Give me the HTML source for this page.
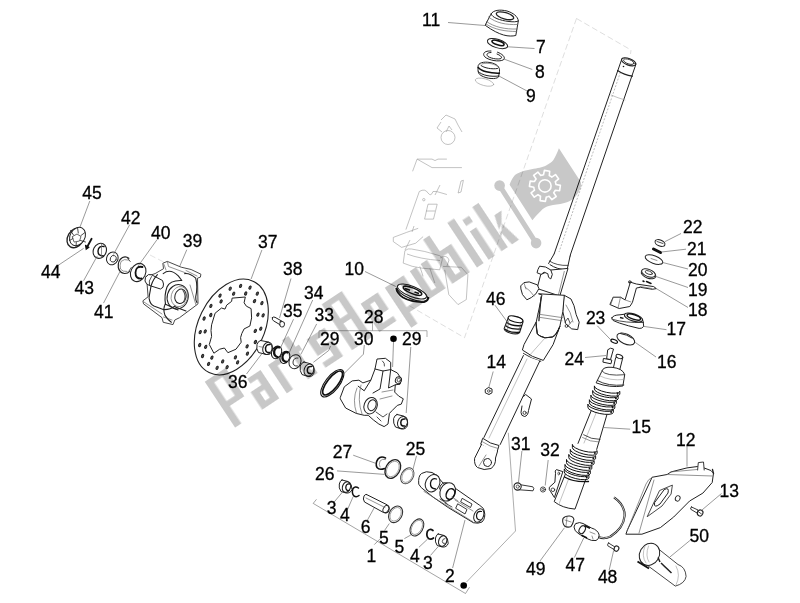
<!DOCTYPE html>
<html><head><meta charset="utf-8"><style>
html,body{margin:0;padding:0;background:#fff;width:800px;height:603px;overflow:hidden}
svg{position:absolute;left:0;top:0;will-change:transform}
.k{fill:none;stroke:#222;stroke-width:1;stroke-linejoin:round;stroke-linecap:round}
.kw{fill:#fff;stroke:#222;stroke-width:1;stroke-linejoin:round;stroke-linecap:round}
.kh{fill:none;stroke:#111;stroke-width:1.6;stroke-linejoin:round;stroke-linecap:round}
.g{fill:none;stroke:#666;stroke-width:0.7;stroke-linecap:round}
.gl{fill:none;stroke:#999;stroke-width:0.6;stroke-linecap:round}
.ld{fill:none;stroke:#555;stroke-width:0.6}
.dsh{fill:none;stroke:#aaa;stroke-width:0.7;stroke-dasharray:5 3}
</style></head><body>
<svg width="800" height="603" viewBox="0 0 800 603">
<rect width="800" height="603" fill="#fff"/>
<!-- p00_ghost.svg -->
<g id="ghost" fill="none" stroke="#9a9a9a" stroke-width="0.6" stroke-linejoin="round">
<!-- steering clamp ring top -->
<circle cx="448" cy="137.5" r="7"/>
<path d="M441,120 L446,115 L455,119 L458,125 M441,122 L437,128 L442,132 M446,132 L449,126 L452,130 M458,125 L462,132"/>
<path d="M417.1,159.1 L432,159.1 Q435,162 438,159.1 L446.9,159.1 M417.1,159.1 L432,167.6 L461.9,167.6 M417.1,159.1 L412.6,171.3"/>
<path d="M458.1,193 L461,181 L463.4,180.3 L461,192 Z"/>
<path d="M419.3,191.5 Q425,188 428,193 Q431,197 433,191.5 L436.5,191.5 L446.9,194.5 M419.3,191.5 L405.9,229.6"/>
<path d="M424.6,219.1 L428,204.2 L437.2,204.2 L433.5,219.1 Z M426,211 L435,211"/>
<circle cx="423.8" cy="199.7" r="1.2"/>
<path d="M393.3,237.4 L406.6,232.4 L418.2,228.3 M393.3,237.4 L393.3,241.6 L401.6,247.4 L415.7,243.2 L423.1,236.6 M412,232 L414,226"/>
<path d="M404.9,250.7 Q408,248 411.5,249 L424.8,251.5 L439.7,255.7 Q443.5,257.5 442.2,259.8 M404.9,250.7 L403.2,263.1 Q412,267 421.5,268.1 L439.7,269.8 L442.2,259.8 M407,254 Q420,259 440,260.5"/>
<path d="M443,266.4 L461.3,267.3 L467.9,274.7 L466.3,299.6 L458,304.6 L448.8,294.6 L444.7,269.8"/>
<path d="M419.8,266.4 L423.1,276.4 M429.8,268.1 L434.8,283 M440,258 Q447,254 449,260 L447,266"/>
<path d="M435,195 L440,185 M410,240 L405,250" />
</g>
<g id="dashes" fill="none" stroke="#c8c8c8" stroke-width="0.6" stroke-dasharray="6 3">
<path d="M576.5,18.5 L464.5,337.7 L409,305.5"/>
<path d="M576.5,18.5 L631,50 L630.5,54"/>

<path d="M150,255 L195,278 M262,313 L282,323" stroke="#d0d0d0"/>
</g>

<!-- p01_top.svg -->
<g id="top">
<!-- 11 cap -->
<path class="kw" d="M491,14 C493,10 500,9.3 507,11 C513,12.8 518,16.5 518.3,21 L515.8,35.5 C509,37 500,36 485.5,25.5 Z"/>
<path class="k" d="M491,14 C492,17.5 500,20.5 509,21.5 C513,22 517,22 518.3,21"/>
<ellipse class="k" cx="505" cy="15.8" rx="9" ry="3.2" transform="rotate(16 505 15.8)" style="stroke-width:1.3"/>
<path class="g" d="M486.5,21.5 C494,27 505,29.5 517.2,29"/>
<path class="g" d="M486,24 C494,29.5 505,31.5 516.8,31.5"/>
<path class="g" d="M488.5,17 C496,23 506,25 517.5,24.5"/>
<path class="ld" d="M448,22.5 L485,25.5"/>
<!-- 7 ring -->
<ellipse class="k" cx="497.5" cy="43.6" rx="10.5" ry="4.2" transform="rotate(17 497.5 43.6)"/>
<ellipse class="kh" cx="498" cy="42.8" rx="6.3" ry="2" transform="rotate(17 498 42.8)"/>
<path class="ld" d="M508,46.8 L534.5,48.5"/>
<!-- 8 circlip -->
<path class="k" d="M491,51 C484,50.5 482,54 485,57 C489,60.5 499,62 503,60 C506,58.5 504,54.5 497.5,52.2"/>
<path class="k" d="M491,52.5 C487,52.5 486,54.5 488,56.5 C492,59 499,59.5 501,58.5 C502.5,57.5 501,55.5 497,54"/>
<path class="ld" d="M503.8,59 L532.3,69.5"/>
<!-- 9 bearing -->
<path class="kw" d="M478,66.5 C478,62.5 484,61.5 490,62.5 C497,63.8 500,67 499.5,71.5 L498.5,77 C496,79.5 487,79 481,75.5 C478.5,74 478,72 478,70 Z"/>
<path class="kh" d="M478.2,67.5 C481,71 490,73.5 499.3,73.2"/>
<path class="k" d="M481,65.5 C484,68 492,69.5 497.5,68.5"/>
<path class="k" d="M478.2,71.5 C482,75.5 491,77 498.8,76"/>
<path class="g" d="M482,64 C485,62.5 493,63 497,66"/>
<ellipse class="gl" cx="484.5" cy="82.2" rx="9.5" ry="3.4" transform="rotate(15 484.5 82.2)"/>
<path class="ld" d="M498.7,75.9 L528,91.5"/>
</g>

<!-- p02_fork.svg -->
<g id="fork">
<!-- upper tube -->
<path class="kw" d="M621.3,60.5 L554.1,254 L569.6,257 L636,64 Z" style="stroke:none"/>
<path class="k" d="M621.3,60.5 L554.1,254"/>
<path class="k" d="M636,64 L569.6,257"/>
<path d="M620.5,72 L559,252" fill="none" stroke="#aaa" stroke-width="0.8" stroke-dasharray="2 1.5"/>
<ellipse class="kw" cx="628.6" cy="61.8" rx="7.5" ry="3.3" transform="rotate(20 628.6 61.8)" style="stroke-width:1.2"/>
<ellipse class="k" cx="628.8" cy="61.7" rx="5.5" ry="2.2" transform="rotate(20 628.8 61.7)" style="stroke-width:0.8"/>
<path class="k" d="M617.6,70.6 Q624,75 632.4,76.2" style="stroke-width:1.2"/>
<circle cx="623.5" cy="66.5" r="0.8" fill="#111"/>
<path class="gl" d="M611,95 Q618,98 625,100"/>
<!-- collar -->
<path class="kw" d="M554.1,254 L548.6,263.5 Q556,269 566.5,270 L570.2,255 Q561,257 554.1,254 Z" style="stroke:none"/>
<path class="k" d="M554.1,254 L548.6,263.5 M570.2,255.5 L567.5,268"/>
<path class="k" d="M549.3,261 Q557,266 568,265.4" style="stroke-width:0.8"/>
<path class="k" d="M550,264.7 Q557,269.5 566.5,269.9"/>
<!-- clamp -->
<path class="kw" d="M541.1,274.4 L550.8,270 L568,268.4 L559.8,296 L537.4,288.6 Z"/>
<path class="g" d="M564.3,271.4 L558.3,295.3"/>
<path class="kw" d="M538.1,269.2 L539.6,266.2 L545.6,267 L550.8,270 L552.3,274.4 L550.8,278.9 L548.6,277.4 L547.8,273.7 L544.1,272.2 L541.1,274.4 L537.4,272.9 Z"/>
<path class="kw" d="M521,285.6 L524,282.6 L529.2,281.9 L537.4,284.9 L538.9,288.6 L535.9,293.8 L531.4,297.5 L526.9,299.8 L522.5,294.6 L521,289.3 Z"/>
<path class="g" d="M525,287 Q530,290 534,296 M524,283 L526,289"/>
<!-- tab right -->
<path class="kw" d="M564.3,295.3 L571,299 L574,305.7 L576.2,314.7 L579.2,322.2 L577.7,329.6 L571.7,328.9 L565.7,323.7 L562.8,311.7 Z"/>
<path class="g" d="M566,305 Q571,312 573,322 M568,326 L572,321"/>
<circle class="k" cx="566.5" cy="326" r="1.4" style="stroke-width:0.8"/>
<path class="k" d="M565,322 L568,318 L570,323" style="stroke-width:0.8"/>
<!-- cylinder below clamp -->
<path class="kw" d="M538.9,293.8 L564.3,295.3 L562.8,311.7 L559.8,326.6 L557.5,331.9 Q555,336.5 552.3,337.1 L544.9,337.8 Q539,336 537.4,334.1 L535.9,323.7 L541.9,295.3 Z"/>
<path class="k" d="M541.1,296.8 L538.9,320.7" style="stroke-width:1.3"/>
<path class="g" d="M537.4,314 L562.8,317.7 M537.4,317 L562,320.7"/>
<!-- sleeve -->
<path class="kw" d="M535.9,322.5 L524,344.6 L522.4,350 Q532,357.5 543.3,360.4 L553.1,344.6 L559.8,326.6 L557.5,331.9 Q555,336.5 552.3,337.1 L544.9,337.8 Q539,336 537.4,334.1 Z"/>
<path class="k" d="M535.9,323.7 Q536.5,331 537.4,334.1 Q540,337 544.9,337.8 L552.3,337.1 Q556,335 559.8,326.6"/>
<path class="gl" d="M545,338 L529,356"/>
<path class="k" d="M523.4,353.4 Q532,359 540.8,361.4" style="stroke-width:0.9"/>
<!-- lower leg -->
<path class="kw" d="M523.4,355.5 L483.9,437.5 L500.2,444.5 L540,361 Z" style="stroke:none"/>
<path class="k" d="M523.4,355.5 L483.9,437.5"/>
<path class="k" d="M539.8,361 L500.2,444.5"/>
<path class="gl" d="M527,359 L489,438"/>
<path class="kw" d="M483,438.5 Q490,444 499,445.5 L497,452 Q488,450 481,444.5 Z"/>
<path class="g" d="M482,441.5 Q490,447 498,448.5"/>
<!-- eye end -->
<path class="kw" d="M481.5,444.5 L474.6,458.3 Q474,465 477.5,467.5 Q484,471 491,468.5 Q496,465 495.5,458 L497.5,451.5"/>
<circle class="k" cx="487.5" cy="462.5" r="4"/>
<path class="g" d="M486,455 L479,466"/>
<!-- bracket tab -->
<path class="kw" d="M523.5,396.5 L525.7,394.5 L531.5,399 L528.5,410.5 Q528,416 524.5,416.5 Q521,416 521,412.5 L522,406"/>
<circle class="k" cx="524.6" cy="412.8" r="1.6" style="stroke-width:0.8"/>
<!-- nut 14 -->
<path class="k" d="M485.5,389.5 L488.5,387.5 L492,389 L492,392.8 L489,394.5 L485.7,393 Z"/>
<circle class="k" cx="488.8" cy="391" r="1.3" style="stroke-width:0.7"/>
<path class="ld" d="M493.2,371.5 L488.8,387.5"/>
</g>

<!-- p03_shock.svg -->
<g id="shock">
<path class="kw" d="M615.6,358 L612.8,370.5 Q616,373.5 619.2,372 L622.9,357.3 Z"/>
<ellipse class="kw" cx="619.3" cy="356.6" rx="3.4" ry="1.9" transform="rotate(20 619.3 356.6)"/>
<path class="kw" d="M608,349.5 Q610.5,347 613.5,349 L610.5,359.5 L607,359 Z"/>
<path class="kw" d="M603.8,358.5 L611.8,360 L611,363.8 L603.3,362.2 Z"/>
<path class="kw" d="M591.9,409 L578,443.4 L596.7,449.4 L607.4,413 Z" style="stroke:none"/>
<path class="k" d="M591.9,409 L578,443.4"/>
<path class="k" d="M607.4,413 L596.7,449.4"/>
<path class="gl" d="M596.5,412 L584,443"/>
<path class="k" d="M583.6,434.8 Q591,439.5 600,439.4" style="stroke-width:0.8"/>
<path class="g" d="M582.5,437.5 Q590,442 599,442"/>
<path class="kw" d="M601.9,371 Q603,366.5 612,367.3 Q623,368.5 624.7,374.7 L622.9,386 Q610,388 596.5,383 Z"/>
<path class="k" d="M601.9,371 Q606,376.5 624.7,374.7" style="stroke-width:0.8"/>
<path class="gl" d="M600,376 Q610,381 624,379.5"/>
<path class="k" d="M597.3,380.5 Q608,386.5 623.8,385" style="stroke-width:0.9"/>
<path d="M594.38,385.90 A13.00,3.80 12.0 0 0 619.82,391.30 L619.82,394.30 A13.00,3.80 12.0 0 1 594.38,388.90 Z" fill="#fff" stroke="#111" stroke-width="1"/><circle cx="617.6" cy="393.7" r="1" fill="#111"/>
<path d="M592.68,390.50 A13.00,3.80 12.0 0 0 618.12,395.90 L618.12,398.90 A13.00,3.80 12.0 0 1 592.68,393.50 Z" fill="#fff" stroke="#111" stroke-width="1"/><circle cx="615.9" cy="398.3" r="1" fill="#111"/>
<path d="M590.88,395.10 A13.00,3.80 12.0 0 0 616.32,400.50 L616.32,403.50 A13.00,3.80 12.0 0 1 590.88,398.10 Z" fill="#fff" stroke="#111" stroke-width="1"/><circle cx="614.1" cy="402.9" r="1" fill="#111"/>
<path d="M589.38,399.70 A13.00,3.80 12.0 0 0 614.82,405.10 L614.82,408.10 A13.00,3.80 12.0 0 1 589.38,402.70 Z" fill="#fff" stroke="#111" stroke-width="1"/><circle cx="612.6" cy="407.5" r="1" fill="#111"/>
<path d="M587.88,404.10 A13.00,3.80 12.0 0 0 613.32,409.50 L613.32,412.50 A13.00,3.80 12.0 0 1 587.88,407.10 Z" fill="#fff" stroke="#111" stroke-width="1"/><circle cx="611.1" cy="411.9" r="1" fill="#111"/>
<path class="kw" d="M565.4,474 L554.2,501.6 Q562,508 575,509.1 L585.5,480 Z"/>
<path class="gl" d="M569,478 L559,504"/>
<path d="M572.38,444.42 A12.75,3.80 14.0 0 0 597.12,450.58 L597.12,453.58 A12.75,3.80 14.0 0 1 572.38,447.42 Z" fill="#fff" stroke="#111" stroke-width="1"/><circle cx="594.9" cy="453.0" r="1" fill="#111"/>
<path d="M570.29,449.44 A13.05,3.80 14.0 0 0 595.61,455.76 L595.61,458.76 A13.05,3.80 14.0 0 1 570.29,452.44 Z" fill="#fff" stroke="#111" stroke-width="1"/><circle cx="593.4" cy="458.2" r="1" fill="#111"/>
<path d="M568.79,454.44 A13.05,3.80 14.0 0 0 594.11,460.76 L594.11,463.76 A13.05,3.80 14.0 0 1 568.79,457.44 Z" fill="#fff" stroke="#111" stroke-width="1"/><circle cx="591.9" cy="463.2" r="1" fill="#111"/>
<path d="M566.49,459.44 A13.05,3.80 14.0 0 0 591.81,465.76 L591.81,468.76 A13.05,3.80 14.0 0 1 566.49,462.44 Z" fill="#fff" stroke="#111" stroke-width="1"/><circle cx="589.6" cy="468.2" r="1" fill="#111"/>
<path d="M564.99,464.44 A13.05,3.80 14.0 0 0 590.31,470.76 L590.31,473.76 A13.05,3.80 14.0 0 1 564.99,467.44 Z" fill="#fff" stroke="#111" stroke-width="1"/><circle cx="588.1" cy="473.2" r="1" fill="#111"/>
<path d="M564.28,468.93 A12.70,3.80 14.0 0 0 588.92,475.07 L588.92,478.07 A12.70,3.80 14.0 0 1 564.28,471.93 Z" fill="#fff" stroke="#111" stroke-width="1"/><circle cx="586.7" cy="477.5" r="1" fill="#111"/>
<path class="kh" d="M564.5,477 Q574,482.5 588.5,481.5" style="stroke-width:1.3"/>
<path class="kw" d="M562.5,471.5 L556.4,469.6 Q554.5,470.5 555.5,473.3 L554.9,482.2 L549.3,487.3 Q548.8,490 550.4,491.2 L554.2,497.2 Z"/>
<ellipse class="k" cx="558.8" cy="473.5" rx="0.9" ry="1.5" style="stroke-width:0.7"/>
<circle class="k" cx="552.9" cy="489.8" r="1.8" style="stroke-width:0.8"/>
<circle class="k" cx="543" cy="489.5" r="2.6" style="stroke-width:0.8"/>
<circle class="k" cx="543" cy="489.5" r="1.2" style="stroke-width:0.6"/>
<path class="ld" d="M548.2,460 L545.2,485.5"/>
<path class="ld" d="M603.7,427.5 L630.2,429.2"/>
<path class="ld" d="M585,357.5 L606,355.5"/>
</g>
<!-- p04_disc.svg -->
<g id="disc">
<ellipse class="kw" cx="231.3" cy="327" rx="32.9" ry="50.7" transform="rotate(26 231.3 327)" style="stroke-width:1.1"/>
<path class="k" d="M232.5,298.1 L245.3,297.0 L244.1,302.8 L246.4,306.2 L251.1,308.6 L251.6,317.9 L249.9,326.0 L244.1,328.9 L241.8,333.5 L240.6,337.6 L241.2,342.2 L236.0,349.2 L227.9,352.7 L224.4,348.0 L219.7,349.2 L213.9,353.2 L209.3,344.5 L211.6,336.4 L211.0,330.6 L211.6,324.8 L215.1,313.2 L221.5,308.0 L225.0,309.1 L226.7,305.1 L231.3,301.6Z" style="stroke-width:1"/>
<ellipse cx="255.4" cy="342.0" rx="1" ry="1.7" transform="rotate(25 255.4 342.0)" fill="#555" stroke="#222" stroke-width="1"/>
<ellipse cx="247.4" cy="353.6" rx="1" ry="1.7" transform="rotate(25 247.4 353.6)" fill="#555" stroke="#222" stroke-width="1"/>
<ellipse cx="237.6" cy="362.3" rx="1" ry="1.7" transform="rotate(25 237.6 362.3)" fill="#555" stroke="#222" stroke-width="1"/>
<ellipse cx="227.1" cy="367.2" rx="1" ry="1.7" transform="rotate(25 227.1 367.2)" fill="#555" stroke="#222" stroke-width="1"/>
<ellipse cx="217.1" cy="367.8" rx="1" ry="1.7" transform="rotate(25 217.1 367.8)" fill="#555" stroke="#222" stroke-width="1"/>
<ellipse cx="208.6" cy="363.9" rx="1" ry="1.7" transform="rotate(25 208.6 363.9)" fill="#555" stroke="#222" stroke-width="1"/>
<ellipse cx="202.6" cy="356.0" rx="1" ry="1.7" transform="rotate(25 202.6 356.0)" fill="#555" stroke="#222" stroke-width="1"/>
<ellipse cx="199.7" cy="345.0" rx="1" ry="1.7" transform="rotate(25 199.7 345.0)" fill="#555" stroke="#222" stroke-width="1"/>
<ellipse cx="200.2" cy="332.1" rx="1" ry="1.7" transform="rotate(25 200.2 332.1)" fill="#555" stroke="#222" stroke-width="1"/>
<ellipse cx="204.1" cy="318.5" rx="1" ry="1.7" transform="rotate(25 204.1 318.5)" fill="#555" stroke="#222" stroke-width="1"/>
<ellipse cx="210.9" cy="305.9" rx="1" ry="1.7" transform="rotate(25 210.9 305.9)" fill="#555" stroke="#222" stroke-width="1"/>
<ellipse cx="220.0" cy="295.6" rx="1" ry="1.7" transform="rotate(25 220.0 295.6)" fill="#555" stroke="#222" stroke-width="1"/>
<ellipse cx="230.2" cy="288.7" rx="1" ry="1.7" transform="rotate(25 230.2 288.7)" fill="#555" stroke="#222" stroke-width="1"/>
<ellipse cx="240.6" cy="285.9" rx="1" ry="1.7" transform="rotate(25 240.6 285.9)" fill="#555" stroke="#222" stroke-width="1"/>
<ellipse cx="250.0" cy="287.6" rx="1" ry="1.7" transform="rotate(25 250.0 287.6)" fill="#555" stroke="#222" stroke-width="1"/>
<ellipse cx="257.3" cy="293.6" rx="1" ry="1.7" transform="rotate(25 257.3 293.6)" fill="#555" stroke="#222" stroke-width="1"/>
<ellipse cx="261.9" cy="303.1" rx="1" ry="1.7" transform="rotate(25 261.9 303.1)" fill="#555" stroke="#222" stroke-width="1"/>
<ellipse cx="263.1" cy="315.3" rx="1" ry="1.7" transform="rotate(25 263.1 315.3)" fill="#555" stroke="#222" stroke-width="1"/>
<ellipse cx="260.8" cy="328.7" rx="1" ry="1.7" transform="rotate(25 260.8 328.7)" fill="#555" stroke="#222" stroke-width="1"/>
<ellipse cx="247.1" cy="346.3" rx="1" ry="1.7" transform="rotate(25 247.1 346.3)" fill="#555" stroke="#222" stroke-width="1"/>
<ellipse cx="235.4" cy="357.3" rx="1" ry="1.7" transform="rotate(25 235.4 357.3)" fill="#555" stroke="#222" stroke-width="1"/>
<ellipse cx="222.7" cy="361.4" rx="1" ry="1.7" transform="rotate(25 222.7 361.4)" fill="#555" stroke="#222" stroke-width="1"/>
<ellipse cx="211.9" cy="357.6" rx="1" ry="1.7" transform="rotate(25 211.9 357.6)" fill="#555" stroke="#222" stroke-width="1"/>
<ellipse cx="205.7" cy="346.8" rx="1" ry="1.7" transform="rotate(25 205.7 346.8)" fill="#555" stroke="#222" stroke-width="1"/>
<ellipse cx="205.2" cy="331.4" rx="1" ry="1.7" transform="rotate(25 205.2 331.4)" fill="#555" stroke="#222" stroke-width="1"/>
<ellipse cx="210.8" cy="315.0" rx="1" ry="1.7" transform="rotate(25 210.8 315.0)" fill="#555" stroke="#222" stroke-width="1"/>
<ellipse cx="221.1" cy="301.4" rx="1" ry="1.7" transform="rotate(25 221.1 301.4)" fill="#555" stroke="#222" stroke-width="1"/>
<ellipse cx="233.7" cy="293.7" rx="1" ry="1.7" transform="rotate(25 233.7 293.7)" fill="#555" stroke="#222" stroke-width="1"/>
<ellipse cx="245.7" cy="293.5" rx="1" ry="1.7" transform="rotate(25 245.7 293.5)" fill="#555" stroke="#222" stroke-width="1"/>
<ellipse cx="254.5" cy="301.1" rx="1" ry="1.7" transform="rotate(25 254.5 301.1)" fill="#555" stroke="#222" stroke-width="1"/>
<ellipse cx="257.9" cy="314.6" rx="1" ry="1.7" transform="rotate(25 257.9 314.6)" fill="#555" stroke="#222" stroke-width="1"/>
<ellipse cx="255.3" cy="330.9" rx="1" ry="1.7" transform="rotate(25 255.3 330.9)" fill="#555" stroke="#222" stroke-width="1"/>
<path class="ld" d="M261.9,250 L251.1,279"/>
</g>
<!-- p05_hub.svg -->
<g id="hub">
<!-- 45 castellated nut -->
<ellipse class="kw" cx="75.5" cy="238" rx="7.8" ry="10.3" transform="rotate(30 75.5 238)" style="stroke-width:1.3"/>
<ellipse class="kw" cx="77.5" cy="236.5" rx="7.4" ry="9.6" transform="rotate(30 77.5 236.5)"/>
<path class="k" d="M72.5,236.5 L77,234 L81,236.5 L79.5,241 L74.5,242 Z" style="stroke-width:0.7"/>
<path class="k" d="M77.5,227.5 L78.3,233 M85,232.5 L81,235.5 M85.5,242 L80.5,240.5 M76,247 L76.3,242.5 M69.5,240.5 L73,238.5 M70.5,230.5 L73.5,235" style="stroke-width:0.8"/>
<path class="ld" d="M89.8,201 L79.9,227.3"/>
<!-- 44 cotter pin -->
<path d="M91.6,238.7 L87.4,246.5" stroke="#111" stroke-width="1.8" stroke-linecap="round" fill="none"/>
<path d="M85.5,244.8 L86.2,249.2 L89.3,247" stroke="#111" stroke-width="1.2" fill="#111"/>
<path class="ld" d="M57.5,265.8 L83.6,248.4"/>
<!-- 43 bearing ring -->
<ellipse class="kw" cx="99.8" cy="250.8" rx="6.4" ry="7.8" transform="rotate(25 99.8 250.8)" style="stroke-width:1.1"/>
<path class="kh" d="M104,246.5 Q98.5,245.5 98,251 Q97.8,256 103.5,256" style="stroke-width:1.4"/>
<path class="g" d="M101.5,244 L101.5,257"/>
<path class="ld" d="M83.6,280.7 L97.3,255.9"/>
<!-- 42 spacer -->
<ellipse class="kw" cx="112.3" cy="258.4" rx="5.6" ry="6.6" transform="rotate(25 112.3 258.4)"/>
<ellipse class="k" cx="113.2" cy="258.8" rx="2.9" ry="3.4" transform="rotate(25 113.2 258.8)" style="stroke-width:0.8"/>
<path class="ld" d="M129.6,224.8 L113.4,254.6"/>
<!-- 41 circlip -->
<path class="k" d="M128.8,258.3 Q126,256 122.5,257.5 Q117.5,260.5 118.3,267.5 Q119.5,273 124.5,273.5 Q128,273.6 129.5,271.5" style="stroke-width:1.2"/>
<path class="g" d="M128.5,260 Q124,258.5 121,261.5 Q119.5,265 120.5,269 Q122.5,272 127,271.5"/>
<path class="k" d="M127.5,258 L130.2,261.5 M129,271 L131.3,267.5" style="stroke-width:0.8"/>
<path class="ld" d="M103.5,303.1 L119.7,272"/>
<!-- 40 bearing -->
<ellipse class="kw" cx="138.2" cy="272.5" rx="7.4" ry="9.4" transform="rotate(25 138.2 272.5)" style="stroke-width:1.1"/>
<path class="kh" d="M142.5,267 Q136,265.5 135.5,272.5 Q135.3,279 141.5,278.5" style="stroke-width:1.8"/>
<path class="ld" d="M157,239.7 L138.3,265.8"/>
<!-- 39 hub -->
<path class="kw" d="M163.2,263.1 L167.3,261.4 L181.2,267.2 L191.1,269.5 L200.9,274.2 L200.4,277.1 L197.5,278.2 L198,303.8 L195.1,306.1 L179.5,317.7 L174.8,320 L173,324.6 L163.2,322.3 L162,317.7 L143.5,303.8 L142.9,300.8 L148.1,296.8 L147,283 L145.8,276.5 L148.1,275.9 L155.1,273.6 L163.2,268.9 Z" style="stroke:#333;stroke-width:0.9"/>
<path class="g" d="M164,264.5 L166,270 M167.3,261.4 L168.5,266.5 L186,273 M186,270.5 L197,276 M144,302 L162,314 M163.5,317 L172,320 M196,305 L190,285"/>
<path class="kw" d="M148,274.8 Q144.3,277 145,281 Q146,284.5 149.5,285.5 L160.5,289 Q164,288 163.5,284 L162.5,280.5 L152,275 Z" style="stroke:#222;stroke-width:1"/>
<path class="k" d="M149.5,285.5 Q148,281 151.5,276.5" style="stroke-width:0.8"/>
<ellipse class="kw" cx="177.7" cy="296.8" rx="10.5" ry="12.3" transform="rotate(15 177.7 296.8)" style="stroke:#222;stroke-width:1"/>
<ellipse class="k" cx="179.5" cy="296.6" rx="8.3" ry="10.2" transform="rotate(15 179.5 296.6)" style="stroke:#777;stroke-width:0.7"/>
<ellipse class="k" cx="180.5" cy="296.3" rx="5.6" ry="7.3" transform="rotate(15 180.5 296.3)" style="stroke:#222;stroke-width:1"/>
<path class="k" d="M183,290.5 Q186.5,295 184,302" style="stroke:#555;stroke-width:1.2"/>
<path class="k" d="M163.2,273.6 Q170.2,268 178.3,275.9 L181.8,280.5 Q170,280 167,287 Q164,295.6 165.5,303.8 Q162.5,308.4 165,315.4 Q168,320 171.3,322.3 M184.7,273.6 Q190,273 195.7,278.2 Q198,287.5 195.7,296.8 Q195.5,300 196.9,302.6 M157.4,274.7 Q151,282 150.4,289.8 Q148.5,299 149.3,299.1 Q150,304 153.9,306.1 L163.2,309.6 Q170,310 175,306 M174,306.5 L186,311 M165,304 L178,310" style="stroke-width:1.1"/>
<path class="ld" d="M186.8,249.7 L179.4,267"/>
</g>

<!-- p06_caliper.svg -->
<g id="caliper">
<!-- 38 bolt -->
<path class="kw" d="M272.5,317.5 Q271.5,319.5 273.5,320.8 L280.5,325 L282.5,321.5 L275,317.3 Q273.5,316.5 272.5,317.5 Z"/>
<path class="kw" d="M280.2,321.8 Q282.5,320.8 284.3,322.5 Q285,325 283.5,326.8 Q281.5,327.5 280,326 Q279.5,323.5 280.2,321.8 Z"/>
<path class="ld" d="M291,278.5 L279.5,318"/>
<!-- 36 bushing -->
<path class="kw" d="M260.5,340.5 L268.5,342 Q273,345 272.3,350.5 Q271.5,355 266.5,354.5 L258.5,352.5 Q256,349 257,344.5 Q258,341 260.5,340.5 Z"/>
<ellipse class="k" cx="267.5" cy="348.3" rx="4.6" ry="6.3" transform="rotate(20 267.5 348.3)"/>
<path class="kh" d="M270,344.5 Q266,344 265.5,348.5 Q265.5,353 269.5,352.5" style="stroke-width:1.5"/>
<path class="g" d="M259,346.5 L264,347.5"/>
<path class="ld" d="M246.5,374 L262,353.5"/>
<!-- 35 dark ring -->
<ellipse cx="276.6" cy="352.4" rx="4.8" ry="6.6" transform="rotate(25 276.6 352.4)" fill="#fff" stroke="#111" stroke-width="1"/>
<path d="M280,347.6 Q275.5,346 274.2,351 Q273.5,356.5 278.5,357.3" fill="none" stroke="#111" stroke-width="2.3"/>
<path class="ld" d="M293.5,319.2 L280.9,347"/>
<!-- 34 dark ring -->
<ellipse cx="284.9" cy="357.3" rx="4.6" ry="6.4" transform="rotate(25 284.9 357.3)" fill="#fff" stroke="#111" stroke-width="1"/>
<path d="M288.2,352.6 Q283.8,351 282.5,356 Q281.8,361.3 286.8,362" fill="none" stroke="#111" stroke-width="2.3"/>
<path class="ld" d="M312.7,300 L289.5,352"/>
<!-- 33 washer -->
<ellipse class="kw" cx="295" cy="361.7" rx="5.9" ry="7.2" transform="rotate(22 295 361.7)"/>
<path class="k" d="M298,358 Q293.5,357.5 293,362 Q292.8,366.5 297.5,366" style="stroke-width:0.9"/>
<path class="ld" d="M316.7,323.9 L300.8,354.4"/>
<!-- 29a bushing -->
<path class="kw" d="M304,362 L310.5,363.8 Q315,367 314,373 Q312.5,377 308,376.5 L302,374.5 Q299.5,371 300.2,366 Q301.5,362.5 304,362 Z"/>
<ellipse class="k" cx="309" cy="370" rx="4.8" ry="6.2" transform="rotate(22 309 370)"/>
<path class="kh" d="M311.5,366.5 Q307.5,366 307.3,370 Q307.3,374 311,373.5" style="stroke-width:1.5"/>
<path class="ld" d="M330.5,346 L328.7,350.5 L313.4,362.3"/>
<!-- 28 bracket -->
<path class="ld" d="M319,338 L319,330.7 L427,330.7 L427,337 M372.5,323.5 L372.5,330.7" style="stroke:#777"/>
<circle cx="393.5" cy="338.7" r="3.3" fill="#000"/>
<path class="ld" d="M393.5,342 L392.6,367"/>
<path class="ld" d="M410.8,347 L406.2,413"/>
<!-- 30 ring seal -->
<ellipse cx="332.3" cy="383.3" rx="7" ry="16.5" transform="rotate(38 332.3 383.3)" fill="none" stroke="#111" stroke-width="1.1"/>
<ellipse cx="332.6" cy="383" rx="5.4" ry="14.6" transform="rotate(38 332.6 383)" fill="none" stroke="#111" stroke-width="1.7"/>
<path d="M339,393 L342,390.5" stroke="#fff" stroke-width="2"/>
<path class="ld" d="M364.3,345 L363.4,354.2 L343.3,374.3"/>
<!-- caliper body -->
<path class="kw" d="M377.4,359 L385.4,358.3 L390.7,362.3 L390.7,369.6 L397.3,372.9 L401.3,378.9 L400,384.2 L395.3,384.8 L394.7,392.1 L398.7,396.1 L403.3,398.8 L401.3,404.1 L397.3,405.4 L392,410.7 L389.4,413.4 L388,424 L384.1,426.6 L378.8,424 L373.5,420 L368.2,415.3 L364.2,415.3 L356.2,413.4 L345.6,408 L340.3,398.8 L340.3,397.4 L344.3,386.8 L352.2,380.9 L358.9,380.2 L362.9,382.9 L370.8,380.2 L374.8,369.6 Z"/>
<path class="k" d="M358.2,386.2 L364.2,390.8 L370.8,380.2 M375,369 L383,371 L390.7,369.6 M383,371 L380,389 L373,393 M390.7,369.6 L388.5,388 L395.3,384.8"/>
<ellipse class="kw" cx="370.6" cy="405.7" rx="6.5" ry="8.4" transform="rotate(20 370.6 405.7)"/>
<ellipse class="k" cx="372" cy="405.2" rx="4" ry="5.6" transform="rotate(20 372 405.2)"/>
<path class="g" d="M357,388 Q352,400 356.5,413 M361,385 Q357,400 362,414 M382,392 L393,390 M380,399 L392,396"/>
<ellipse class="kw" cx="398.4" cy="380.2" rx="3" ry="3.4" transform="rotate(20 398.4 380.2)"/>
<ellipse class="k" cx="398.8" cy="380" rx="1.6" ry="2" transform="rotate(20 398.8 380)" style="stroke-width:0.7"/>
<path class="k" d="M376,412 L383,417 L387,414 M377,417 L381,421 M382.5,361 Q385,363 384.5,366" style="stroke-width:0.8"/>
<!-- 29b bushing -->
<path class="kw" d="M397,414.5 L403.5,416 Q408.5,419.5 407.5,425.5 Q406,429.5 401.5,429 L395.5,427 Q393,423.5 393.6,418.5 Q394.8,415 397,414.5 Z"/>
<ellipse class="k" cx="402.5" cy="422.5" rx="4.8" ry="6.2" transform="rotate(22 402.5 422.5)"/>
<path class="kh" d="M405,419 Q401,418.5 400.8,422.5 Q400.8,426.5 404.5,426" style="stroke-width:1.5"/>
<!-- 10 seal -->
</g>

<!-- p07_right.svg -->
<g id="right">
<!-- 22 -->
<ellipse class="kw" cx="660" cy="243" rx="5.2" ry="3" transform="rotate(22 660 243)"/>
<path class="k" d="M657,241.5 L663,243.5" style="stroke-width:0.8"/>
<path class="ld" d="M665,241.6 L681,233.5"/>
<!-- 21 spring -->
<path d="M653.5,249 L660.5,252.5" stroke="#111" stroke-width="3" stroke-linecap="round"/>
<path class="ld" d="M661.5,252 L686,249.2"/>
<!-- 20 washer -->
<ellipse class="kw" cx="654" cy="259.6" rx="9.3" ry="3.8" transform="rotate(20 654 259.6)"/>
<path class="g" d="M651,258.5 L657,260.5"/>
<path class="ld" d="M662.7,262.5 L688,269"/>
<!-- 19 thick washer -->
<ellipse class="kw" cx="648.5" cy="274.2" rx="7.6" ry="4" transform="rotate(20 648.5 274.2)"/>
<ellipse class="kw" cx="648.5" cy="273" rx="7.2" ry="3.6" transform="rotate(20 648.5 273)"/>
<ellipse class="k" cx="648.8" cy="272.6" rx="3.8" ry="1.6" transform="rotate(20 648.8 272.6)" style="stroke-width:0.8"/>
<path class="ld" d="M655.7,276.4 L688,287.5"/>
<!-- 18 bracket -->
<path class="kw" d="M629.8,282 L636.4,284 L653.7,286.6 L656.3,288.6 L652.3,289.3 L640.4,287.3 L636.4,288 L632.4,302.5 L629.8,306.5 L619.2,308.5 L609.9,304.5 L613.2,297.2 L620.5,297.2 L625.1,299.9 L629.8,284 Z"/>
<path class="g" d="M613.2,297.2 L611,304 M620.5,297.2 L618,308 M625.1,299.9 L631,302 M640,286.5 L652,288.5"/>
<circle class="k" cx="629.8" cy="282" r="1.3" style="stroke-width:0.8"/>
<path d="M646.5,281.5 L651,283.5 M643,281 L644,281.5" stroke="#111" stroke-width="1.5" stroke-linecap="round"/>
<path class="ld" d="M656.3,288.6 L688,307.5"/>
<!-- 17 plate -->
<path class="kw" d="M611.9,317.8 Q613,315 620,314.8 L626,314 Q636,313.5 643,320.5 L643.7,326.4 Q642,328.8 639.1,328.4 L628.5,325.8 Q618,323 613.2,320.5 Q611.5,319.5 611.9,317.8 Z"/>
<path class="k" d="M613,319.5 Q625,323 643.5,322.5" style="stroke-width:0.8"/>
<ellipse class="kw" cx="633.5" cy="317.5" rx="9.5" ry="3.6" transform="rotate(18 633.5 317.5)" style="stroke-width:1.2"/>
<ellipse class="kh" cx="633.8" cy="317" rx="7" ry="2.3" transform="rotate(18 633.8 317)" style="stroke-width:1.4"/>
<path d="M620,317.5 L623.5,318.3" stroke="#111" stroke-width="1.3"/>
<path class="ld" d="M643.7,326.4 L666.5,329.7"/>
<!-- 16 ring -->
<ellipse class="kw" cx="625.8" cy="339" rx="9.5" ry="5" transform="rotate(25 625.8 339)"/>
<path class="k" d="M620.5,333.5 Q627,334.5 632,338" style="stroke-width:1"/>
<path class="ld" d="M635.1,342.3 L656,357"/>
<!-- 23 nut -->
<ellipse cx="614.2" cy="341.3" rx="3.5" ry="1.6" transform="rotate(22 614.2 341.3)" fill="#fff" stroke="#111" stroke-width="1.2"/>
<path class="ld" d="M597.3,325.8 L611.2,340.3"/>
</g>

<!-- p08_bottom.svg -->
<g id="bottom">
<!-- 27 C clip -->
<path class="kh" d="M385.5,458 Q381,455.5 378,459 Q375,463.5 377,467.5 Q379.5,470.5 384.5,468.5" style="stroke-width:1.6"/>
<path class="g" d="M385.5,459.5 Q382,458.5 380,461 Q378.5,464.5 380,467"/>
<path class="ld" d="M353.2,455.2 L375.9,463.4"/>
<!-- 26 ring -->
<ellipse cx="392.8" cy="469.0" rx="7.0" ry="10.0" transform="rotate(30 392.8 469.0)" fill="none" stroke="#222" stroke-width="1.4"/><ellipse cx="392.8" cy="469.0" rx="5.6" ry="8.3" transform="rotate(30 392.8 469.0)" fill="none" stroke="#888" stroke-width="0.7"/>
<path class="ld" d="M337,470.9 L384.6,474.4"/>
<!-- 25 washer -->
<ellipse cx="407.3" cy="475.8" rx="6.0" ry="8.5" transform="rotate(30 407.3 475.8)" fill="none" stroke="#444" stroke-width="0.9"/><ellipse cx="407.3" cy="475.8" rx="4.8" ry="7.1" transform="rotate(30 407.3 475.8)" fill="none" stroke="#888" stroke-width="0.7"/>
<path class="ld" d="M416.5,455.8 L413,469.2"/>
<!-- 3a bushing -->
<path class="kw" d="M342,480 L348,481.5 Q352.5,484.5 352,489.5 Q350.5,493.5 346,493 L341,491.5 Q338.5,488 339.3,484 Q340,480.5 342,480 Z"/>
<ellipse class="k" cx="346.5" cy="487" rx="4" ry="5.5" transform="rotate(22 346.5 487)" style="stroke-width:1.1"/>
<path class="kh" d="M349.5,484 Q346,483.5 345.8,487.5 Q346,491 349,490.5" style="stroke-width:1.3"/>
<path class="ld" d="M342.2,492.4 L333.5,502.8"/>
<!-- 4a C clip -->
<path class="kh" d="M358.5,488 Q355,485.5 352.8,489 Q351.5,493.5 354,496 Q356.5,497.5 359,495.5" style="stroke-width:1.5"/>
<path class="ld" d="M353.2,496.5 L347.4,509.8"/>
<!-- 6 pin -->
<path class="kw" d="M366.5,494.5 L387.5,505 Q390.5,508.5 388.5,512 Q386,513.8 383.5,512.5 L364.5,502 Q362.5,499 364,496 Q365,494 366.5,494.5 Z"/>
<ellipse class="k" cx="386" cy="509" rx="2.6" ry="4" transform="rotate(30 386 509)" style="stroke-width:0.9"/>
<path class="g" d="M366,498 L385,507.5"/>
<path class="ld" d="M374.1,508 L367.2,520.5"/>
<!-- 5a ring -->
<ellipse cx="395.6" cy="514.3" rx="6.3" ry="8.8" transform="rotate(30 395.6 514.3)" fill="none" stroke="#333" stroke-width="1.1"/><ellipse cx="395.6" cy="514.3" rx="5.0" ry="7.3" transform="rotate(30 395.6 514.3)" fill="none" stroke="#888" stroke-width="0.7"/>
<path class="ld" d="M389.3,523.5 L384.6,530.4"/>
<!-- 5b ring -->
<ellipse cx="416.9" cy="527.4" rx="6.0" ry="9.2" transform="rotate(30 416.9 527.4)" fill="none" stroke="#333" stroke-width="1.1"/><ellipse cx="416.9" cy="527.4" rx="4.8" ry="7.7" transform="rotate(30 416.9 527.4)" fill="none" stroke="#888" stroke-width="0.7"/>
<path class="ld" d="M410.8,535 L404.4,538.6"/>
<!-- 4b C clip -->
<path class="kh" d="M433,530.5 Q429.5,528 427.3,531.5 Q426,536 428.5,538.5 Q431,540 433.5,538" style="stroke-width:1.7"/>
<path class="ld" d="M427.6,539.1 L418.9,547.3"/>
<!-- 3b bushing -->
<path class="kw" d="M438.2,534 L444.2,535.5 Q448.7,538.5 448.2,543.5 Q446.7,547.5 442.2,547 L437.2,545.5 Q434.7,542 435.5,538 Q436.2,534.5 438.2,534 Z"/>
<ellipse class="k" cx="442.7" cy="541" rx="4" ry="5.5" transform="rotate(22 442.7 541)" style="stroke-width:1.1"/>
<path class="k" d="M445,538.5 Q442.5,538.5 442.3,541.5 Q442.5,544 444.5,543.5" style="stroke-width:0.8"/>
<path class="ld" d="M438.1,546.7 L430.5,555.4"/>
<!-- bracket line 1 & dot line 2 -->
<path class="ld" d="M316.5,499.3 L313.2,503.4 L465.5,593.5 L469.5,587.2" style="stroke:#666"/><path class="ld" d="M466.5,582 L515.5,531 L508.3,432.8" style="stroke:#777"/>
<path class="ld" d="M374.3,544.6 L379.8,539.1"/>
<circle cx="463.7" cy="585.5" r="3.3" fill="#000"/>
<!-- swing arm 2 -->
<path class="kw" d="M418.7,483.8 Q418,476 421.5,473.5 Q426,470.5 432,472.5 Q437.5,474.5 440,479.5 L443,483 Q447,482 452,485 Q455,487 454.7,487.9 L479.7,505.3 Q484.5,508.5 484.3,511.1 Q486,518 482,522 Q478,524 473.3,522.7 L448.3,507.6 L433.2,497.2 L421.6,487.9 Z"/>
<ellipse class="kw" cx="432.6" cy="483.2" rx="7" ry="9" transform="rotate(25 432.6 483.2)"/>
<path class="kh" d="M436.5,479 Q431.5,477.5 430.5,483 Q430,488.5 435.5,489" style="stroke-width:1.3"/>
<path class="kw" d="M439.6,489 Q440,483.5 444.5,483 Q450,483 453,487"/>
<ellipse class="kw" cx="447.7" cy="491.9" rx="7.5" ry="9.5" transform="rotate(25 447.7 491.9)"/>
<ellipse cx="450.4" cy="494" rx="4" ry="5.5" transform="rotate(25 450.4 494)" fill="none" stroke="#111" stroke-width="1.5"/>
<ellipse class="k" cx="478.8" cy="515.5" rx="4.6" ry="7" transform="rotate(25 478.8 515.5)"/>
<path class="kh" d="M481.5,511.5 Q477,510.5 476.5,515.5 Q476.5,520 480.5,520" style="stroke-width:1.2"/>
<path class="g" d="M423.9,491.4 L472.7,521.6 M455,500 L473,511 M452,497 L458,501"/>
<path class="k" d="M458,504 L467,509.5 L465,514 L456,508.5 Z M462.5,498.5 L472,504 L470.5,507.5 L461,502 Z" style="stroke-width:0.9"/>
<path class="k" d="M440,499 L447,503.5 M445,503 L452,507" style="stroke-width:0.8"/>
<path class="ld" d="M452.6,568 L465,520"/>
</g>

<!-- p09_misc.svg -->
<g id="misc">
<!-- 12 fender -->
<path class="kw" d="M652.5,477.2 L667.1,474.5 L671.1,471.9 L687,467.9 L697.6,466.5 L704.2,468 L710.9,470.5 L713.5,473.2 L712.2,482.5 L702.9,493.1 L689.6,501 L673.7,517 L660.4,527.6 L641.9,534.2 L625.9,534.2 L627.3,530.3 Z" style="stroke:#222"/>
<path class="g" d="M652.5,477.2 Q648,479 646,484 L627.3,530.3 M667.1,474.5 L712.2,476 M671.1,471.9 L697,469.5 M654,480 L639,533"/>
<path class="k" d="M659.9,490.4 L672.4,485.1 L671.1,494 L662,506 L647.5,516.5 Z" style="stroke:#333;stroke-width:0.9"/>
<path class="k" d="M664.5,489.5 Q669.5,486.5 668,493 L660,504 Q653.5,509 654.5,503 Z" style="stroke-width:1"/>
<ellipse class="k" cx="677.7" cy="498.4" rx="2.3" ry="2.8" transform="rotate(25 677.7 498.4)" style="stroke-width:0.9"/>
<path class="kw" d="M697.6,470 L698.3,462.6 L703.5,462 L704.2,470" style="stroke-width:0.9"/>
<path class="k" d="M712.5,469.5 L713.5,473.5" style="stroke-width:1.3"/>
<path class="ld" d="M687,446 L687,466.5"/>
<!-- 13 screw -->
<path class="kw" d="M691.5,507 L698,510 L697,513 L690.8,509.3 Q690,507.5 691.5,507 Z" style="stroke-width:0.9"/>
<ellipse class="kw" cx="700.2" cy="513" rx="2.7" ry="3" transform="rotate(25 700.2 513)" style="stroke-width:1.1"/>
<path class="k" d="M698.8,512 L701.5,514" style="stroke-width:0.8"/>
<path class="ld" d="M701.6,510.3 L721.5,493.5"/>
<!-- spring clip arc -->
<path d="M614,497.3 Q625,505 624.6,516 Q623.5,528 610.5,536.5 Q604,539.5 598.7,537" fill="none" stroke="#222" stroke-width="2.2"/>
<path d="M614,497.3 Q625,505 624.6,516 Q623.5,528 610.5,536.5 Q604,539.5 598.7,537" fill="none" stroke="#fff" stroke-width="0.7"/>
<!-- 49 cap -->
<path class="kw" d="M563,518.5 Q565,515.8 569.5,516 Q573.5,516.5 573.9,519.5 Q573,524 571,526.5 Q567.5,528 564.5,526 Q561.8,522.5 563,518.5 Z" style="stroke-width:1.1"/>
<path class="g" d="M565,520 L571,522 M567,517 L566,526"/>
<path class="ld" d="M564.4,527.8 L540,561"/>
<!-- 47 sensor -->
<path class="kw" d="M576,523.5 Q579.5,521.5 583,523.5 L591.5,528 Q598,530 599.2,535 Q599,539.5 596,540.5 Q591,541 588,539 L579,534 Q574,531 574,527 Q574.5,524.5 576,523.5 Z" style="stroke-width:1"/>
<ellipse class="k" cx="582.2" cy="529.7" rx="2.8" ry="4.2" transform="rotate(30 582.2 529.7)" style="stroke-width:1.1"/>
<path d="M584.5,525.5 L590,528.3 M581.5,535.2 L587,538" stroke="#111" stroke-width="1.6"/>
<path class="g" d="M590,532 L595,534 M592,536 L593,539"/>
<path class="ld" d="M583.8,537.8 L574.4,557.5"/>
<!-- 48 bolt -->
<path class="kw" d="M608.5,543 L615,547 L614,549.5 L607.8,545.8 Q607,544 608.5,543 Z" style="stroke-width:0.9"/>
<ellipse class="kw" cx="616.5" cy="548.6" rx="2.3" ry="2.7" transform="rotate(25 616.5 548.6)" style="stroke-width:1.1"/>
<path class="ld" d="M613.6,550.7 L609.2,570"/>
<!-- 50 cylinder -->
<path class="kw" d="M651.6,543.5 L678,564.5 Q685.5,567 686.1,576.4 Q685,583.5 675.3,586.1 L646.2,564.5 Z" style="stroke:#333;stroke-width:0.9"/>
<ellipse class="kw" cx="649.5" cy="554.3" rx="9.8" ry="11.5" transform="rotate(30 649.5 554.3)" style="stroke:#222;stroke-width:1"/>
<path class="gl" d="M645,546 Q641,556 646,563 M648.5,546 Q645,556 649,562 M676,566 Q681,575 676,585"/>
<path d="M637.5,561.5 L649,568.6" stroke="#111" stroke-width="1.8"/>
<path d="M658,557.5 L660,562 M661,563 L671.5,573 M664,566 L668.5,570" stroke="#222" stroke-width="1.5"/>
<path class="ld" d="M669.9,557 L689.9,540.5"/>
<!-- 31 bolt -->
<path class="kw" d="M519,484.5 L532.8,486.8 Q534.8,488.5 533,490.8 L519.5,489.8 Z" style="stroke-width:0.9"/>
<circle class="kw" cx="517.6" cy="486.5" r="3.6" style="stroke-width:1.1"/>
<circle class="k" cx="517.8" cy="486.6" r="1.6" style="stroke-width:0.7"/>
<path class="ld" d="M521.9,451 L518.4,483"/>
<!-- 46 grommet -->
<path class="kw" d="M508,318.5 Q510,315.5 516,316.5 Q523,318 523,322 L519.6,332.5 Q517,335 510,333 Q504,331 504.2,328.5 Z" style="stroke-width:1.1"/>
<ellipse cx="515.5" cy="319.3" rx="7.6" ry="2.8" transform="rotate(15 515.5 319.3)" fill="#fff" stroke="#111" stroke-width="1.1"/>
<path d="M507.2,322.5 Q511,326.5 522,325.5 M506,325.8 Q510,329.8 521,329 M505,329 Q509,333 520,332.3" fill="none" stroke="#111" stroke-width="1.4"/>
<path d="M508.5,320.5 L507.5,330 M520.5,323 L519,331" fill="none" stroke="#666" stroke-width="0.6"/>
<path class="ld" d="M495,305.2 L506.6,321"/>
<!-- 10 seal -->
<ellipse cx="412.3" cy="293" rx="16.3" ry="6" transform="rotate(22 412.3 293)" fill="#fff" stroke="#111" stroke-width="1.1"/>
<path d="M396.2,288 Q396.5,293 403,297.5 Q412,302.5 424,302 Q428.5,301 428.4,297" fill="none" stroke="#111" stroke-width="1.8"/>
<ellipse cx="412" cy="291.5" rx="15.5" ry="5.2" transform="rotate(22 412 291.5)" fill="#fff" stroke="#222" stroke-width="1"/>
<ellipse cx="412.5" cy="290.8" rx="10" ry="2.8" transform="rotate(22 412.5 290.8)" fill="none" stroke="#111" stroke-width="1.4"/>
<path d="M405,288.5 L410,290.2 M414.5,292 L419,293.5" stroke="#111" stroke-width="1.6"/>
<path class="ld" d="M365,271.5 L395.8,286.5"/>
</g>


<g style="mix-blend-mode:multiply"><g id="wm"><path fill="#c8c8c8" transform="translate(235.1,427.6) rotate(-33.5)" d="M0.0,0.0 L7.5,0.0 L7.5,-55.0 L0.0,-55.0Z M0.0,-49.2 L25.0,-49.2 L25.0,-55.0 L0.0,-55.0Z M17.5,-21.0 L25.0,-21.0 L25.0,-55.0 L17.5,-55.0Z M0.0,-21.0 L25.0,-21.0 L25.0,-26.8 L0.0,-26.8Z M37.0,-28.2 L53.0,-28.2 L53.0,-34.0 L37.0,-34.0Z M45.5,0.0 L53.0,0.0 L53.0,-34.0 L45.5,-34.0Z M32.5,0.0 L53.0,0.0 L53.0,-5.8 L32.5,-5.8Z M32.5,0.0 L40.0,0.0 L40.0,-21.0 L32.5,-21.0Z M32.5,-15.5 L53.0,-15.5 L53.0,-21.0 L32.5,-21.0Z M62.0,0.0 L69.5,0.0 L69.5,-34.0 L62.0,-34.0Z M62.0,-28.2 L76.0,-28.2 L76.0,-34.0 L62.0,-34.0Z M87.5,0.0 L95.0,0.0 L95.0,-47.0 L87.5,-47.0Z M84.5,-28.2 L99.0,-28.2 L99.0,-34.0 L84.5,-34.0Z M87.5,0.0 L99.0,0.0 L99.0,-5.8 L87.5,-5.8Z M108.5,-28.2 L129.5,-28.2 L129.5,-34.0 L108.5,-34.0Z M108.5,-14.0 L116.0,-14.0 L116.0,-34.0 L108.5,-34.0Z M108.5,-14.0 L129.5,-14.0 L129.5,-19.8 L108.5,-19.8Z M122.0,0.0 L129.5,0.0 L129.5,-19.8 L122.0,-19.8Z M108.5,0.0 L129.5,0.0 L129.5,-5.8 L108.5,-5.8Z M140.3,0.0 L147.8,0.0 L147.8,-55.0 L140.3,-55.0Z M140.3,-49.2 L164.3,-49.2 L164.3,-55.0 L140.3,-55.0Z M156.8,-27.0 L164.3,-27.0 L164.3,-55.0 L156.8,-55.0Z M140.3,-27.0 L164.3,-27.0 L164.3,-32.8 L140.3,-32.8Z M156.8,0.0 L164.3,0.0 L164.3,-27.0 L156.8,-27.0Z M173.0,-28.2 L193.5,-28.2 L193.5,-34.0 L173.0,-34.0Z M173.0,0.0 L180.5,0.0 L180.5,-34.0 L173.0,-34.0Z M186.0,-14.0 L193.5,-14.0 L193.5,-34.0 L186.0,-34.0Z M173.0,-14.0 L193.5,-14.0 L193.5,-19.8 L173.0,-19.8Z M173.0,0.0 L193.5,0.0 L193.5,-5.8 L173.0,-5.8Z M202.0,14.0 L209.5,14.0 L209.5,-34.0 L202.0,-34.0Z M202.0,-28.2 L224.5,-28.2 L224.5,-34.0 L202.0,-34.0Z M217.0,0.0 L224.5,0.0 L224.5,-34.0 L217.0,-34.0Z M202.0,0.0 L224.5,0.0 L224.5,-5.8 L202.0,-5.8Z M232.0,0.0 L239.5,0.0 L239.5,-34.0 L232.0,-34.0Z M245.0,0.0 L252.5,0.0 L252.5,-34.0 L245.0,-34.0Z M232.0,0.0 L252.5,0.0 L252.5,-5.8 L232.0,-5.8Z M260.5,0.0 L268.0,0.0 L268.0,-53.0 L260.5,-53.0Z M260.5,-28.2 L281.5,-28.2 L281.5,-34.0 L260.5,-34.0Z M274.0,0.0 L281.5,0.0 L281.5,-34.0 L274.0,-34.0Z M260.5,0.0 L281.5,0.0 L281.5,-5.8 L260.5,-5.8Z M290.0,0.0 L298.0,0.0 L298.0,-53.5 L290.0,-53.5Z M304.0,0.0 L311.5,0.0 L311.5,-34.0 L304.0,-34.0Z M304.0,-40.5 L312.0,-40.5 L312.0,-47.5 L304.0,-47.5Z M319.5,0.0 L327.0,0.0 L327.0,-53.0 L319.5,-53.0Z M327.0,-11.0 L333.5,-34.0 L342.0,-34.0 L329.5,-15.0Z M329.0,-19.0 L332.0,0.0 L340.5,0.0 L335.0,-23.5Z"/><g fill="#c8c8c8">
<path d="M509.6,184.7 C512,178 515,174.5 516.9,173.8 C522,171 527,170 531.5,169.2 C538,168 542,167.5 546.1,165.5 C549,164 551.5,162.5 553.4,160.1 C555.5,156.5 557.5,152 558.9,148.2 L580.8,182 C581.5,185 581,187.5 579.9,189.3 C578,193.5 576,196.5 573.5,198.4 C571,200.5 568,202 564.3,203 C559,204.5 554,204.8 549.7,205.7 C546,206.5 543,208.5 540.6,211.2 C537,214.5 534.5,217.5 532.4,220.3 Z"/>
<line x1="499.6" y1="185.6" x2="536.1" y2="243.1" stroke="#c8c8c8" stroke-width="5" stroke-linecap="round"/>
<circle cx="499.6" cy="185.6" r="5.3"/><circle cx="536.1" cy="243.1" r="5.3"/>
<path d="M542.1,175.1 L543.5,174.8 L544.4,170.4 L549.7,171.2 L549.3,175.6 L550.6,176.2 L551.8,177.1 L555.5,174.6 L558.7,178.9 L555.3,181.7 L555.7,183.1 L556.0,184.5 L560.4,185.4 L559.6,190.7 L555.2,190.3 L554.6,191.6 L553.7,192.8 L556.2,196.5 L551.9,199.7 L549.1,196.3 L547.7,196.7 L546.3,197.0 L545.4,201.4 L540.1,200.6 L540.5,196.2 L539.2,195.6 L538.0,194.7 L534.3,197.2 L531.1,192.9 L534.5,190.1 L534.1,188.7 L533.8,187.3 L529.4,186.4 L530.2,181.1 L534.6,181.5 L535.2,180.2 L536.1,179.0 L533.6,175.3 L537.9,172.1 L540.7,175.5Z" fill="none" stroke="#fff" stroke-width="1.6" stroke-linejoin="round"/>
<circle cx="544.9" cy="185.9" r="6.2" fill="none" stroke="#fff" stroke-width="1.6"/>
</g></g></g>
<g font-family="Liberation Sans" font-size="17.5" fill="#000" stroke="#000" stroke-width="0.3">
<text x="422" y="25.8">11</text>
<text x="536" y="53">7</text>
<text x="535" y="78">8</text>
<text x="526" y="102">9</text>
<text x="82.2" y="198.8">45</text>
<text x="121" y="224">42</text>
<text x="151" y="239">40</text>
<text x="182.7" y="246.9">39</text>
<text x="41" y="277.5">44</text>
<text x="74.5" y="294">43</text>
<text x="94" y="317.5">41</text>
<text x="258" y="247.5">37</text>
<text x="283" y="275">38</text>
<text x="344.5" y="275">10</text>
<text x="304" y="299">34</text>
<text x="283" y="317">35</text>
<text x="314.5" y="321">33</text>
<text x="364" y="323">28</text>
<text x="320" y="344.5">29</text>
<text x="354" y="344.5">30</text>
<text x="402" y="344.5">29</text>
<text x="228" y="387.5">36</text>
<text x="486" y="304.8">46</text>
<text x="486.5" y="368">14</text>
<text x="564.5" y="364.5">24</text>
<text x="585.9" y="324.4">23</text>
<text x="511" y="449.5">31</text>
<text x="540.2" y="455.6">32</text>
<text x="405.7" y="455.2">25</text>
<text x="332.8" y="457.8">27</text>
<text x="688" y="316">18</text>
<text x="666.5" y="335">17</text>
<text x="657" y="368">16</text>
<text x="631.5" y="432.5">15</text>
<text x="676" y="446">12</text>
<text x="683" y="233">22</text>
<text x="687" y="254.5">21</text>
<text x="688" y="276">20</text>
<text x="688" y="295.5">19</text>
<text x="315" y="479.7">26</text>
<text x="326.7" y="513.5">3</text>
<text x="340" y="521">4</text>
<text x="360.7" y="533.2">6</text>
<text x="379" y="543.9">5</text>
<text x="366.5" y="562.2">1</text>
<text x="394.5" y="552.5">5</text>
<text x="410" y="561.7">4</text>
<text x="423" y="568.5">3</text>
<text x="445" y="582">2</text>
<text x="526" y="575">49</text>
<text x="565.5" y="570.6">47</text>
<text x="719.5" y="497">13</text>
<text x="689.6" y="542">50</text>
<text x="597.9" y="582.5">48</text>
</g>
</svg>
</body></html>
